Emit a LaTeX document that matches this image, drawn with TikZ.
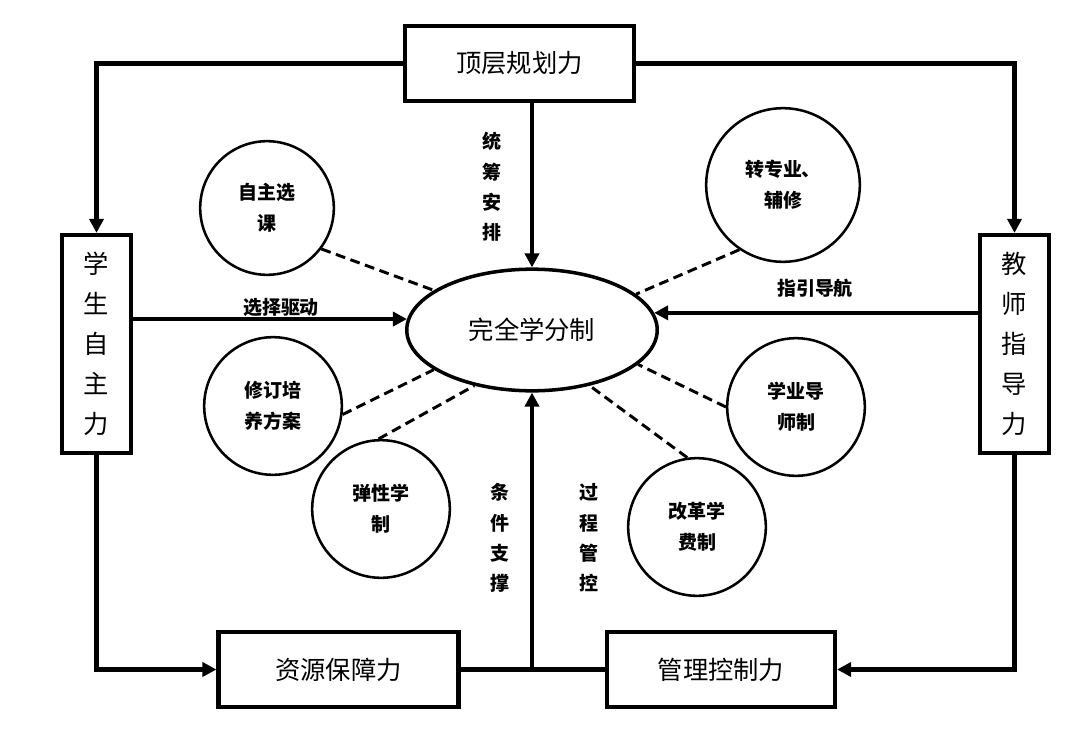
\documentclass[tikz,border=0pt]{standalone}
\usepackage{fontspec}
\setmainfont{Noto Sans CJK SC}
\usepackage{tikz}
\usetikzlibrary{calc,positioning,arrows.meta,shapes.geometric}
\tikzset{
>={Triangle[length=10pt,width=10pt]},
  forcebox/.style={
    rectangle,
    draw=black, line width=2.9pt,
    minimum width=5.725cm,
    minimum height=1.875cm,
    font=\fontsize{18}{20}\selectfont,
    text centered},
  sidebox/.style={
    rectangle,
    draw=black, line width=2.9pt,
    minimum width=1.725cm,
    minimum height=5.45cm,
    align=center,
    font=\fontsize{18}{28.4}\selectfont},
  hub/.style={
    ellipse,
    draw=black, line width=2.5pt,
    minimum width=6.26cm,
    minimum height=3.04cm,
    font=\fontsize{18}{20}\selectfont},
  measure/.style={
    circle,
    draw=black, line width=1.8pt,
    minimum size=3.44cm, inner sep=0pt,
    align=center,
    font=\bfseries\fontsize{13.5}{22}\selectfont},
  line/.style={draw, line width=3.3pt, ->},
  link/.style={draw, line width=2.1pt, dash pattern=on 7pt off 4pt},
  tag/.style={font=\bfseries\fontsize{13.5}{16}\selectfont},
  vtag/.style={align=center, font=\bfseries\fontsize{13.5}{21.5}\selectfont},
}
\begin{document}
\begin{tikzpicture}
  [x=0.025cm, y=-0.025cm]
  \useasboundingbox (0,0) rectangle (1080,736);
     \node[forcebox] (top) at (519.5,63.5) {顶层规划力};
     \node[sidebox] (stu) at (96.5,344) {学\\生\\自\\主\\力};
     \node[sidebox] (tea) at (1014.5,344) {教\\师\\指\\导\\力};
     \node[forcebox, minimum width=6cm] (res) at (338.5,669.5) {资源保障力};
     \node[forcebox, minimum width=5.7cm] (mgr) at (721,669.5) {管理控制力};
     \node[hub] (core) at (532,330) {完全学分制};
     \node[measure, minimum size=3.34cm] (elect) at (267,208) {自主选\\课};
     \node[measure, minimum size=3.84cm] (minor) at (783,185) {转专业、\\辅修};
     \node[measure] (plan) at (273,406) {修订培\\养方案};
     \node[measure] (flex) at (381,509) {弹性学\\制};
     \node[measure] (tutor) at (796,407) {学业导\\师制};
     \node[measure] (fee) at (697,527) {改革学\\费制};
     \node[vtag] (arrange) at (492,187) {统\\筹\\安\\排};
     \node[vtag] (support) at (500,538) {条\\件\\支\\撑};
     \node[vtag] (control) at (589,538) {过\\程\\管\\控};
     \node[tag] (drive) at (281,307) {选择驱动};
     \node[tag] (guide) at (815,288) {指引导航};
     \draw[line] (top.west) -| (stu.north);
     \draw[line] (top.east) -| (tea.north);
     \draw[line] (core.north |- top.south) -- (core.north);
     \draw[line] (stu.east |- core.175) -- (core.175);
     \draw[line] (tea.west |- core.8) -- (core.8);
     \draw[line] (stu.south) |- (res.west);
     \draw[line] (tea.south) |- (mgr.east);
     \draw[line] (res.east) -| (core.south);
     \draw[line width=3.3pt] (mgr.west) -- (core.south |- mgr.west);
     \draw[link] (elect.-37) -- (core.158);
     \draw[link] (minor.236) -- (core.19);
     \draw[link] (plan.-7) -- (core.202);
     \draw[link] (flex.92) -- (core.224);
     \draw[link] (tutor.180) -- (core.-18);
     \draw[link] (fee.98) -- (core.-44);
  \end{tikzpicture}
\end{document}
